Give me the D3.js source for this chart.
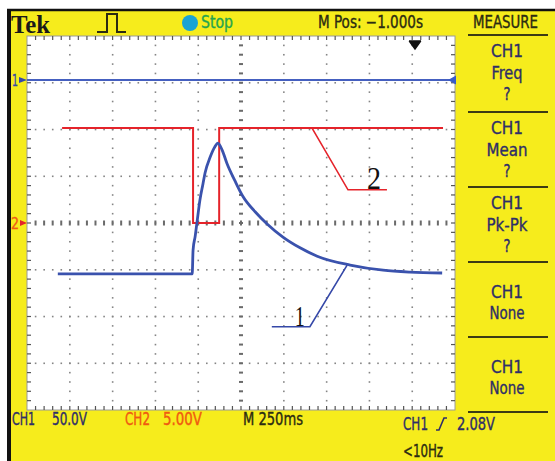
<!DOCTYPE html>
<html>
<head>
<meta charset="utf-8">
<script src="https://cdn.jsdelivr.net/npm/d3@7"></script>
<style>
  html, body { margin: 0; padding: 0; background: #fff; }
  svg { display: block; }
</style>
</head>
<body>
<svg id="scope" width="555" height="461"></svg>
<script>
// Trace values, in screen divisions (x: 0..10, y: -4..4 around the centre line)
const ch1Time  = [0.72, 3.86, 3.88, 3.93, 3.97, 4.04, 4.11, 4.16, 4.28, 4.39, 4.46, 4.56, 4.67, 4.86, 5.05, 5.33, 5.61, 5.98, 6.38, 6.78, 7.55, 8.32, 8.95, 9.70];
const ch1Level = [-1.09, -1.09, -0.58, -0.28, 0.00, 0.49, 0.83, 1.07, 1.41, 1.63, 1.71, 1.56, 1.28, 0.90, 0.56, 0.24, -0.02, -0.30, -0.53, -0.71, -0.90, -1.01, -1.05, -1.07];

const ch2Time  = [0.82, 3.88, 3.88, 4.49, 4.49, 9.72];
const ch2Level = [2.03, 2.03, 0.00, 0.00, 2.03, 2.03];

// reference line with the "1" marker
const refTime  = [0, 10];
const refLevel = [3.06, 3.06];

// callouts: leader lines (divisions) and their labels
const callout1 = [[5.72, -2.22], [6.61, -2.22], [7.48, -0.90]];
const callout2 = [[6.66, 2.03], [7.50, 0.71], [8.41, 0.71]];

// readouts
const measureBlocks = [
  ['CH1', 'Freq', '?'],
  ['CH1', 'Mean', '?'],
  ['CH1', 'Pk-Pk', '?'],
  ['CH1', 'None'],
  ['CH1', 'None']
];
const headerText = { brand: 'Tek', state: 'Stop', mpos: 'M Pos: \u22121.000s', menu: 'MEASURE' };
const footerText = { ch1: ['CH1', '50.0V'], ch2: ['CH2', '5.00V'], time: 'M 250ms', trig: ['CH1', '2.08V'], freq: '<10Hz' };

const YELLOW = '#f6ec1c';
const INK = '#2b2b12';
const NAVY = '#2e2e68';
const BLUE = '#3a52ad';
const RED = '#e5232a';
const NARROW = "'Liberation Sans Narrow','DejaVu Sans Condensed','Liberation Sans',sans-serif";

const svg = d3.select('#scope');

const x = d3.scaleLinear().domain([0, 10]).range([27, 455]);
const y = d3.scaleLinear().domain([-4, 4]).range([410, 36]);

// text helper, widths are pinned so the narrow scope font lines up
const label = (g, txt, px, py, w, size, fill, extra = {}) => {
  const t = g.append('text')
    .attr('x', px)
    .attr('y', py)
    .attr('font-family', extra.family || NARROW)
    .attr('font-size', size)
    .attr('font-weight', extra.weight || 'normal')
    .attr('fill', fill)
    .text(txt);
  if (w) t.attr('textLength', w).attr('lengthAdjust', 'spacingAndGlyphs');
  if (extra.anchor) t.attr('text-anchor', extra.anchor);
  if (!extra.family) t.attr('stroke', fill).attr('stroke-width', 0.35);
  return t;
};

// frame
svg.append('rect').attr('x', 9).attr('y', 11).attr('width', 546).attr('height', 450).attr('fill', YELLOW);
svg.append('line').attr('x1', 7).attr('x2', 555).attr('y1', 10).attr('y2', 10).attr('stroke', '#111').attr('stroke-width', 2.5);
svg.append('line').attr('x1', 9).attr('x2', 9).attr('y1', 10).attr('y2', 461).attr('stroke', '#111').attr('stroke-width', 4);

// screen
svg.append('rect')
  .attr('x', x(0)).attr('y', y(4))
  .attr('width', x(10) - x(0)).attr('height', y(-4) - y(4))
  .attr('fill', '#fff')
  .attr('stroke', '#9a9a9a')
  .attr('stroke-width', 1);

const grid = svg.append('g').classed('grid', true);
const xStep = (x(1) - x(0)) / 5;
const yStep = (y(-1) - y(0)) / 5;

// dotted vertical lines
for (let i = 1; i < 10; i++) {
  if (i === 5) continue;
  grid.selectAll(null)
    .data(d3.range(1, 40))
    .enter().append('rect')
    .attr('x', x(i) - 0.75).attr('y', (k) => y(4) + k * yStep - 0.75)
    .attr('width', 1.6).attr('height', 1.6)
    .attr('fill', '#858585');
}
// dotted horizontal lines
for (let j = -3; j <= 3; j++) {
  if (j === 0) continue;
  grid.selectAll(null)
    .data(d3.range(1, 50))
    .enter().append('rect')
    .attr('x', (k) => x(0) + k * xStep - 0.75).attr('y', y(j) - 0.75)
    .attr('width', 1.6).attr('height', 1.6)
    .attr('fill', '#858585');
}
// centre lines with ticks
grid.selectAll(null)
  .data(d3.range(1, 40))
  .enter().append('rect')
  .attr('x', x(5) - 2).attr('y', (k) => y(4) + k * yStep - 1)
  .attr('width', 4).attr('height', 2)
  .attr('fill', '#6a6a6a');
grid.selectAll(null)
  .data(d3.range(1, 50))
  .enter().append('rect')
  .attr('x', (k) => x(0) + k * xStep - 1).attr('y', y(0) - 2.5)
  .attr('width', 2).attr('height', 5)
  .attr('fill', '#6a6a6a');
// border ticks
grid.selectAll(null)
  .data(d3.range(1, 50))
  .enter().append('g')
  .each(function(k) {
    const gx = x(0) + k * xStep;
    d3.select(this).append('line')
      .attr('x1', gx).attr('x2', gx).attr('y1', y(4)).attr('y2', y(4) + 4)
      .attr('stroke', '#555').attr('stroke-width', 1.2);
    d3.select(this).append('line')
      .attr('x1', gx).attr('x2', gx).attr('y1', y(-4)).attr('y2', y(-4) - 4)
      .attr('stroke', '#555').attr('stroke-width', 1.2);
  });
grid.selectAll(null)
  .data(d3.range(1, 40))
  .enter().append('g')
  .each(function(k) {
    const gy = y(4) + k * yStep;
    d3.select(this).append('line')
      .attr('x1', x(0)).attr('x2', x(0) + 4).attr('y1', gy).attr('y2', gy)
      .attr('stroke', '#555').attr('stroke-width', 1.2);
    d3.select(this).append('line')
      .attr('x1', x(10)).attr('x2', x(10) - 4).attr('y1', gy).attr('y2', gy)
      .attr('stroke', '#555').attr('stroke-width', 1.2);
  });

// traces
const line = d3.line().x((d) => x(d[0])).y((d) => y(d[1]));
const traces = svg.append('g').classed('traces', true);

traces.append('path')
  .datum(d3.zip(refTime, refLevel))
  .attr('d', line)
  .attr('fill', 'none')
  .attr('stroke', '#4560c0')
  .attr('stroke-width', 2);

traces.append('path')
  .datum(d3.zip(ch2Time, ch2Level))
  .attr('d', line)
  .attr('fill', 'none')
  .attr('stroke', RED)
  .attr('stroke-width', 2);

traces.append('path')
  .datum(d3.zip(ch1Time, ch1Level))
  .attr('d', d3.line().x((d) => x(d[0])).y((d) => y(d[1])).curve(d3.curveMonotoneX))
  .attr('fill', 'none')
  .attr('stroke', BLUE)
  .attr('stroke-width', 2.8);

// callouts
traces.append('path')
  .datum(callout2)
  .attr('d', line)
  .attr('fill', 'none')
  .attr('stroke', RED)
  .attr('stroke-width', 1.6);
traces.append('path')
  .datum(callout1)
  .attr('d', line)
  .attr('fill', 'none')
  .attr('stroke', '#3548a8')
  .attr('stroke-width', 1.6);
label(traces, '2', x(callout2[1][0]) + 19, y(callout2[1][1]) - 1, 14, 31, '#111', { family: "'Liberation Serif','DejaVu Serif',serif" });
label(traces, '1', x(callout1[0][0]) + 23, y(callout1[0][1]) - 1, 10, 29, '#111', { family: "'Liberation Serif','DejaVu Serif',serif" });

// channel markers
const markers = svg.append('g').classed('markers', true);
label(markers, '1', 12, y(refLevel[0]) + 6, 6, 15, '#3548a8');
markers.append('path')
  .attr('d', `M19,${y(refLevel[0]) - 3}L27,${y(refLevel[0])}L19,${y(refLevel[0]) + 3}Z`)
  .attr('fill', '#3548a8');
markers.append('path')
  .attr('d', `M456,${y(refLevel[0]) - 4.5}L448,${y(refLevel[0])}L456,${y(refLevel[0]) + 4.5}Z`)
  .attr('fill', '#3a5cc8');
label(markers, '2', 11, y(0) + 6, 8, 16, '#f05a14');
markers.append('path')
  .attr('d', `M20,${y(0) - 3}L27,${y(0)}L20,${y(0) + 3}Z`)
  .attr('fill', RED);
// trigger position
markers.append('path')
  .attr('d', 'M409,41H421M410,42L415,49L420,42Z')
  .attr('stroke', '#111')
  .attr('stroke-width', 1.5)
  .attr('fill', '#111');

// header
const header = svg.append('g').classed('header', true);
label(header, headerText.brand, 11, 33, 39, 26, '#1a1a1a', { family: "'Liberation Serif','DejaVu Serif',serif", weight: 'bold' });
header.append('path')
  .attr('d', 'M97,32H107V14H117V32H126')
  .attr('fill', 'none')
  .attr('stroke', INK)
  .attr('stroke-width', 2);
header.append('circle').attr('cx', 190).attr('cy', 23).attr('r', 8).attr('fill', '#19a3d4');
label(header, headerText.state, 201, 28, 32, 17, '#25a450');
label(header, headerText.mpos, 318, 28, 105, 17, INK);
label(header, headerText.menu, 473, 28, 65, 17, INK);

// measure panel
const panel = svg.append('g').classed('measure', true);
const dividers = [35, 112, 187, 262, 337, 412];
panel.selectAll('line')
  .data(dividers)
  .enter().append('line')
  .attr('x1', 468).attr('x2', 548)
  .attr('y1', (d) => d).attr('y2', (d) => d)
  .attr('stroke', '#3b3b14')
  .attr('stroke-width', 2);

const rowWidth = { CH1: 32, Freq: 31, Mean: 41, 'Pk-Pk': 41, None: 35, '?': 7 };
measureBlocks.forEach((rows, i) => {
  const top = dividers[i];
  const bottom = dividers[i + 1];
  const gap = 21.5;
  const firstBase = rows.length === 3 ? top + 22 : (top + bottom) / 2 - 2;
  rows.forEach((r, k) => {
    label(panel, r, 507, firstBase + k * gap, rowWidth[r], 18, NAVY, { anchor: 'middle' });
  });
});

// footer
const footer = svg.append('g').classed('footer', true);
label(footer, footerText.ch1[0], 12, 425, 23, 17, NAVY);
label(footer, footerText.ch1[1], 52, 425, 35, 17, NAVY);
label(footer, footerText.ch2[0], 125, 425, 25, 17, '#f05a10');
label(footer, footerText.ch2[1], 163, 425, 39, 17, '#f05a10');
label(footer, footerText.time, 243, 425, 60, 17, INK);
label(footer, footerText.trig[0], 403, 430, 25, 17, NAVY);
footer.append('path')
  .attr('d', 'M436,430H439L444,418H447')
  .attr('fill', 'none')
  .attr('stroke', NAVY)
  .attr('stroke-width', 1.6);
label(footer, footerText.trig[1], 457, 430, 38, 17, NAVY);
label(footer, footerText.freq, 403, 457, 40, 17, INK);
</script>
</body>
</html>
